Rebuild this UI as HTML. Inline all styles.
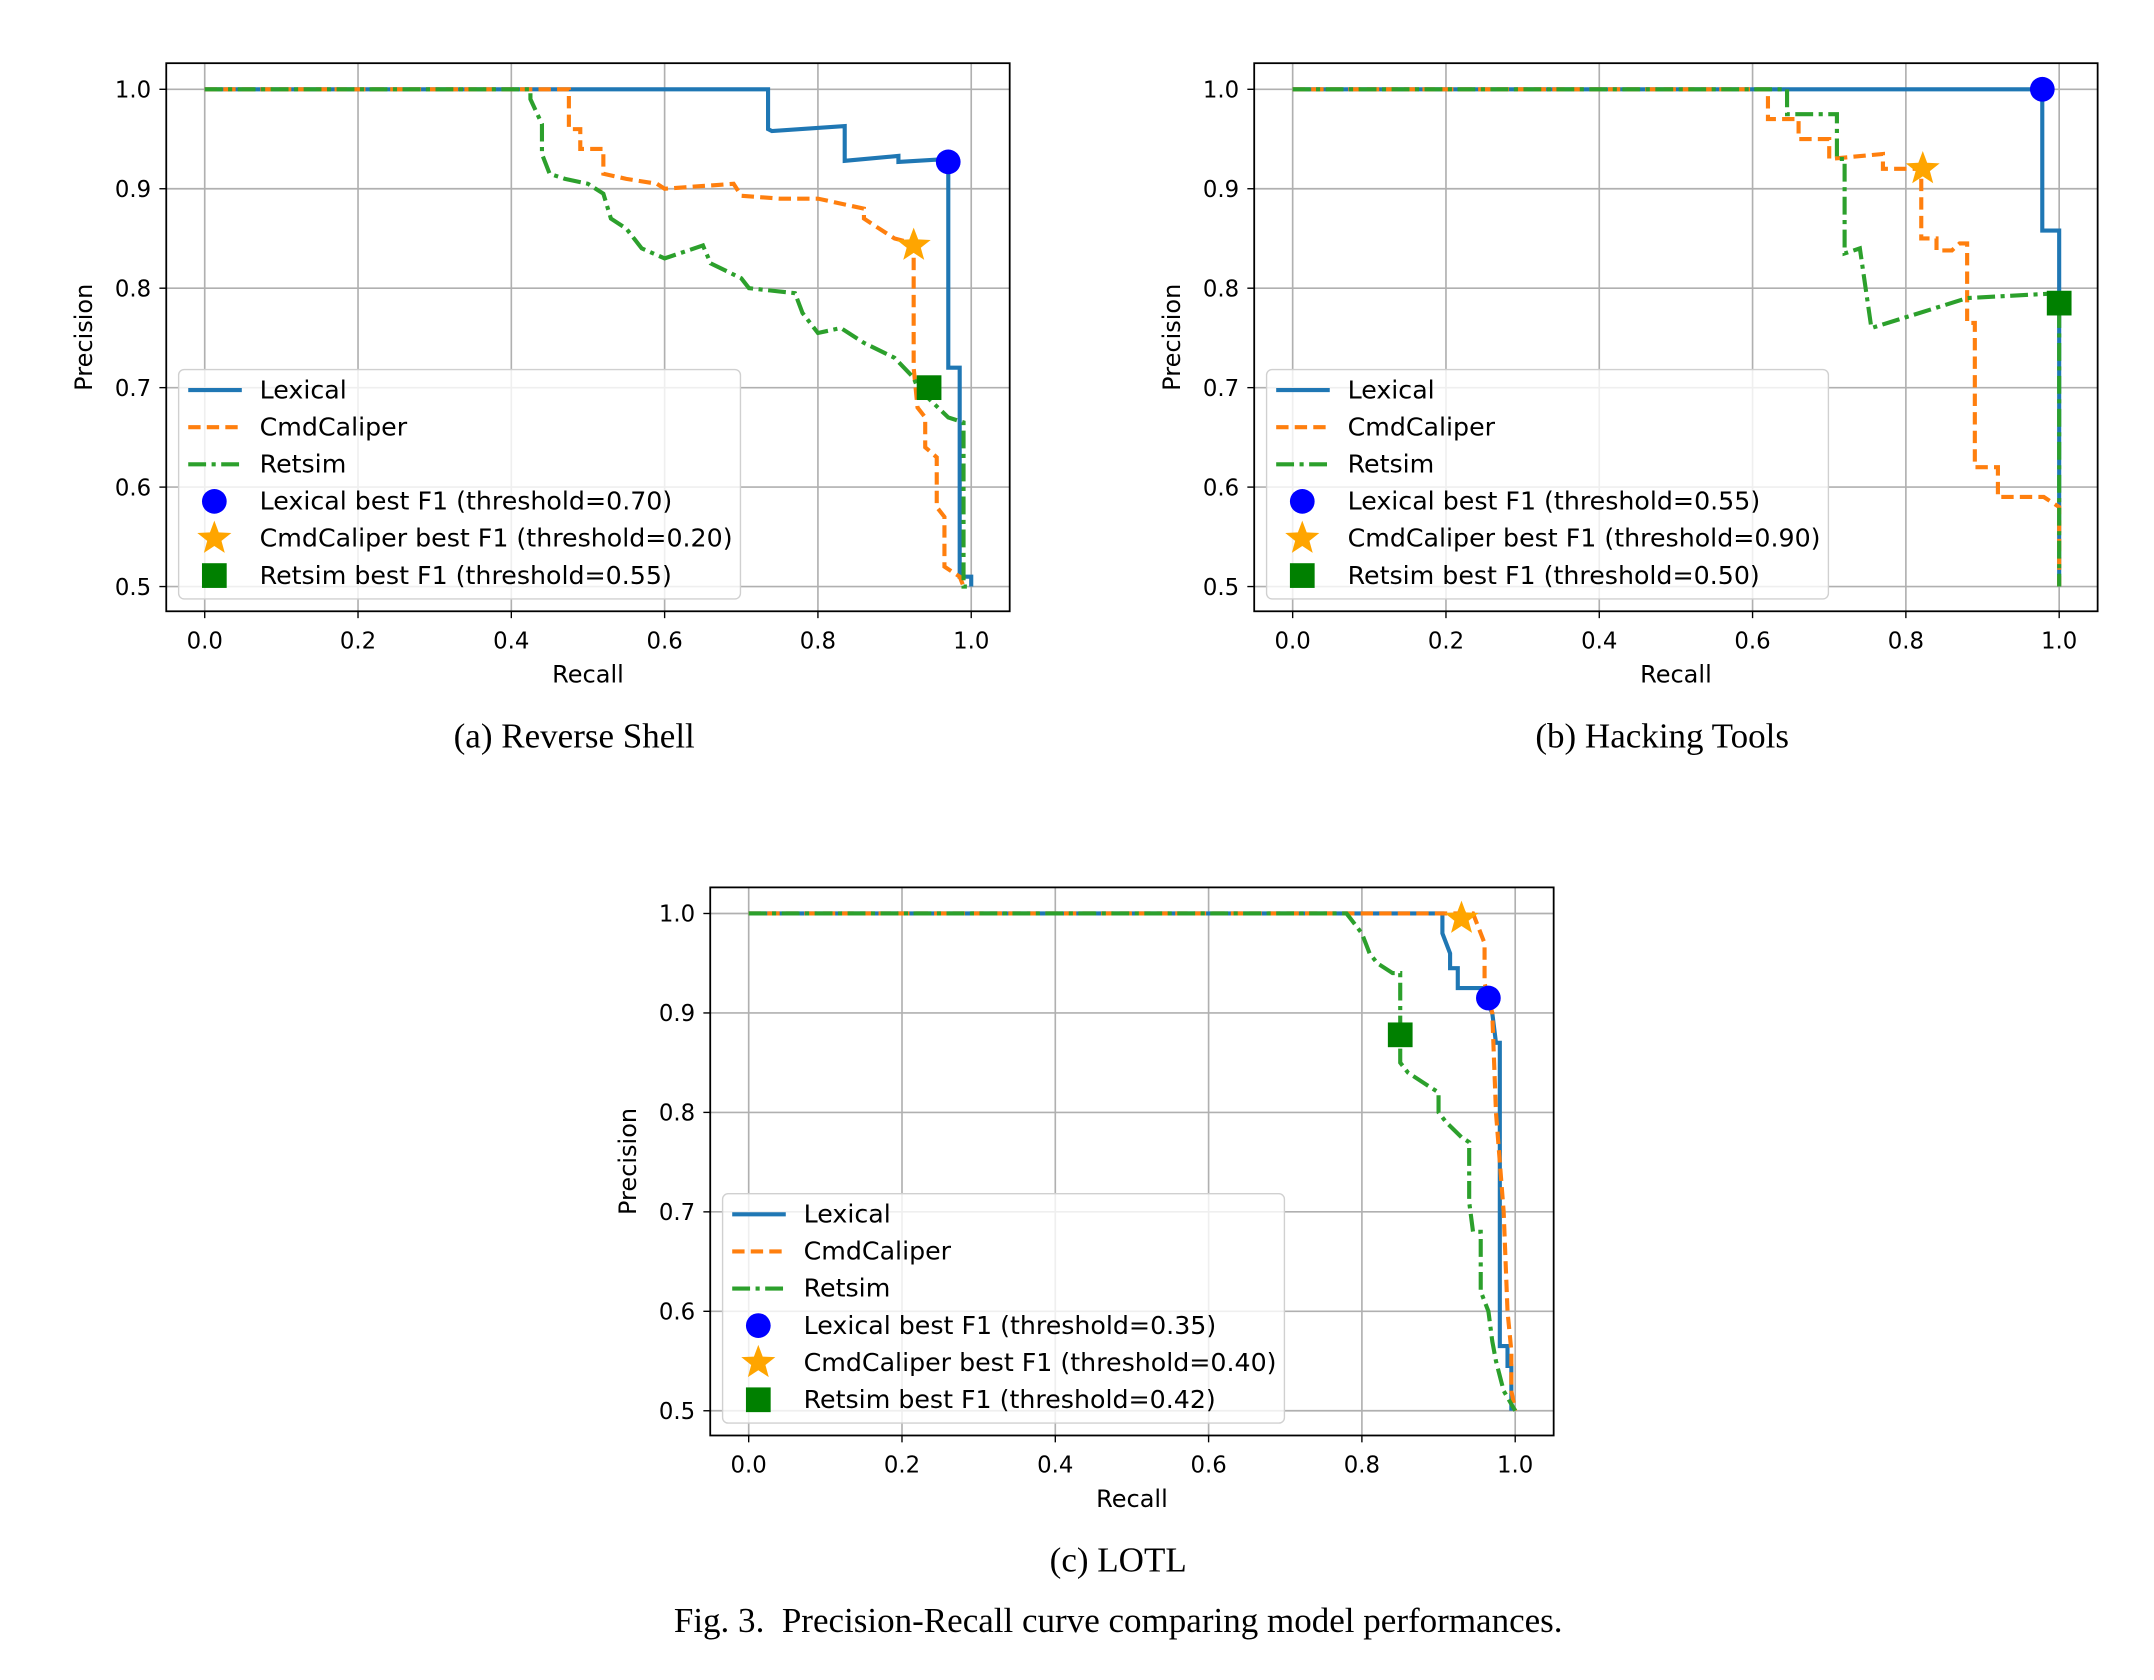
<!DOCTYPE html>
<html><head><meta charset="utf-8">
<style>
html,body{margin:0;padding:0;background:#fff;}
svg{display:block;}
.tick{font-family:"DejaVu Sans","Liberation Sans",sans-serif;font-size:16.6px;fill:#000;}
.lab{font-family:"DejaVu Sans","Liberation Sans",sans-serif;font-size:17.5px;fill:#000;}
.leg{font-family:"DejaVu Sans","Liberation Sans",sans-serif;font-size:18.4px;fill:#000;}
.cap{font-family:"Liberation Serif",serif;font-size:25.5px;fill:#000;}
</style></head>
<body>
<svg id="fig" width="2154" height="1680" viewBox="0 0 1568 1223" xmlns="http://www.w3.org/2000/svg">
<text class="cap" x="418" y="544" text-anchor="middle">(a) Reverse Shell</text>
<text class="cap" x="1210" y="544" text-anchor="middle">(b) Hacking Tools</text>
<text class="cap" x="814" y="1144" text-anchor="middle">(c) LOTL</text>
<text class="cap" x="814" y="1188" text-anchor="middle">Fig. 3.&#160; Precision-Recall curve comparing model performances.</text>
</svg>
<script>
const xTicks=[0,0.2,0.4,0.6,0.8,1.0];
const yTicks=[0.5,0.6,0.7,0.8,0.9,1.0];
const seriesNames=["Lexical","CmdCaliper","Retsim"];
// panel a
const aLexR=[0,0.735,0.735,0.74,0.835,0.835,0.905,0.905,0.97,0.97,0.985,0.985,1.0,1.0];
const aLexP=[1,1,0.96,0.958,0.963,0.928,0.933,0.927,0.93,0.72,0.72,0.51,0.51,0.5];
const aCmdR=[0,0.475,0.475,0.49,0.49,0.52,0.52,0.55,0.59,0.6,0.69,0.7,0.75,0.8,0.86,0.86,0.88,0.9,0.925,0.925,0.93,0.94,0.94,0.955,0.955,0.965,0.965,0.985,0.99];
const aCmdP=[1,1,0.96,0.96,0.94,0.94,0.915,0.91,0.905,0.9,0.905,0.893,0.89,0.89,0.88,0.87,0.86,0.85,0.845,0.72,0.68,0.67,0.64,0.63,0.58,0.57,0.52,0.51,0.5];
const aRetR=[0,0.425,0.425,0.44,0.44,0.45,0.47,0.5,0.52,0.53,0.55,0.57,0.6,0.65,0.66,0.7,0.71,0.77,0.78,0.8,0.83,0.86,0.9,0.925,0.93,0.95,0.97,0.99,0.99,1.0];
const aRetP=[1,1,0.99,0.965,0.935,0.915,0.91,0.905,0.895,0.87,0.86,0.84,0.83,0.843,0.825,0.81,0.8,0.795,0.775,0.755,0.76,0.745,0.73,0.71,0.7,0.685,0.67,0.665,0.5,0.5];
const aBest=[[0.97,0.927],[0.925,0.843],[0.945,0.7]];
const aThr=["0.70","0.20","0.55"];
// panel b
const bLexR=[0,0.978,0.978,1.0,1.0];
const bLexP=[1,1,0.858,0.858,0.5];
const bCmdR=[0,0.62,0.62,0.66,0.66,0.7,0.7,0.77,0.77,0.82,0.82,0.84,0.84,0.86,0.87,0.88,0.88,0.89,0.89,0.92,0.92,0.98,1.0,1.0];
const bCmdP=[1,1,0.97,0.97,0.95,0.95,0.93,0.935,0.92,0.92,0.85,0.85,0.838,0.838,0.845,0.845,0.765,0.765,0.62,0.62,0.59,0.59,0.58,0.5];
const bRetR=[0,0.645,0.645,0.71,0.71,0.72,0.72,0.74,0.755,0.88,1.0,1.0];
const bRetP=[1,1,0.975,0.975,0.93,0.93,0.835,0.84,0.76,0.79,0.795,0.5];
const bBest=[[0.978,1.0],[0.822,0.92],[1.0,0.785]];
const bThr=["0.55","0.90","0.50"];
// panel c
const cLexR=[0,0.905,0.905,0.915,0.915,0.925,0.925,0.96,0.96,0.97,0.975,0.98,0.98,0.99,0.99,0.995,0.995];
const cLexP=[1,1,0.98,0.96,0.945,0.945,0.925,0.925,0.915,0.9,0.87,0.87,0.565,0.565,0.545,0.545,0.5];
const cCmdR=[0,0.945,0.95,0.96,0.96,0.97,0.975,0.985,0.99,0.995,0.995,1.0];
const cCmdP=[1,1,0.99,0.97,0.93,0.9,0.8,0.7,0.6,0.56,0.52,0.5];
const cRetR=[0,0.78,0.79,0.8,0.81,0.82,0.84,0.85,0.85,0.86,0.88,0.9,0.9,0.91,0.93,0.94,0.94,0.945,0.955,0.955,0.965,0.97,0.975,0.985,1.0];
const cRetP=[1,1,0.99,0.98,0.96,0.95,0.94,0.94,0.85,0.84,0.83,0.82,0.8,0.79,0.775,0.77,0.71,0.68,0.68,0.62,0.6,0.57,0.55,0.52,0.5];
const cBest=[[0.965,0.915],[0.93,0.995],[0.85,0.878]];
const cThr=["0.35","0.40","0.42"];

const NS="http://www.w3.org/2000/svg";
const svg=document.getElementById('fig');
function mk(tag,attrs,parent){const e=document.createElementNS(NS,tag);for(const k in attrs)e.setAttribute(k,attrs[k]);(parent||svg).appendChild(e);return e;}
const colors=["#1f77b4","#ff7f0e","#2ca02c"];
const dashes=["none","9,4.5","13,4,3,4"];

function panel(id,L,T,series,best,thr){
  const R=L+614,B=T+399;
  const x0=L+28,x1=L+586,yTop=T+19,yBot=T+381;
  const sx=v=>x0+(x1-x0)*v;
  const sy=v=>yBot-(yBot-yTop)*(v-0.5)/0.5;
  const g=mk('g',{});
  
  
  xTicks.forEach(t=>{
    const l=mk('line',{x1:sx(t),x2:sx(t),y1:T,y2:B,stroke:'#b0b0b0','stroke-width':1.2},g);
    
    
    mk('line',{x1:sx(t),x2:sx(t),y1:B,y2:B+5,stroke:'#000','stroke-width':1},g);
    const tx=mk('text',{x:sx(t),y:B+27,'text-anchor':'middle',class:'tick'},g);
    tx.textContent=t.toFixed(1);
    
    
  });
  yTicks.forEach(t=>{
    const l=mk('line',{x1:L,x2:R,y1:sy(t),y2:sy(t),stroke:'#b0b0b0','stroke-width':1.2},g);
    
    
    mk('line',{x1:L-5,x2:L,y1:sy(t),y2:sy(t),stroke:'#000','stroke-width':1},g);
    const tx=mk('text',{x:L-11,y:sy(t)+6,'text-anchor':'end',class:'tick'},g);
    tx.textContent=t.toFixed(1);
    
    
  });
  series.forEach((s,i)=>{
    const d=s[0].map((r,j)=>(j?'L':'M')+sx(r).toFixed(1)+','+sy(s[1][j]).toFixed(1)).join(' ');
    const p=mk('path',{d:d,fill:'none',stroke:colors[i],'stroke-width':3,'stroke-dasharray':dashes[i]},g);
    
    
  });
  const m0=mk('circle',{cx:sx(best[0][0]),cy:sy(best[0][1]),r:9,fill:'#0000ff'},g);
  
  
  const star=(cx,cy,r)=>{let pts=[];for(let k=0;k<10;k++){const a=-Math.PI/2+k*Math.PI/5;const rr=k%2?r*0.42:r;pts.push((cx+rr*Math.cos(a)).toFixed(1)+','+(cy+rr*Math.sin(a)).toFixed(1));}return pts.join(' ');};
  const m1=mk('polygon',{points:star(sx(best[1][0]),sy(best[1][1]),13),fill:'#ffa500'},g);
  
  
  const m2=mk('rect',{x:sx(best[2][0])-9,y:sy(best[2][1])-9,width:18,height:18,fill:'#008000'},g);
  
  
  mk('rect',{x:L,y:T,width:614,height:399,fill:'none',stroke:'#000','stroke-width':1.3},g);
  const xl=mk('text',{x:(L+R)/2,y:B+52,'text-anchor':'middle',class:'lab'},g);xl.textContent='Recall';
  
  
  const yl=mk('text',{x:0,y:0,'text-anchor':'middle',class:'lab',transform:`translate(${L-54},${(T+B)/2}) rotate(-90)`},g);yl.textContent='Precision';
  
  
  const lg=mk('g',{},g);
  
  
  const lx=L+9,ly=T+223;
  mk('rect',{x:lx,y:ly,width:409,height:167,rx:4,fill:'#fff','fill-opacity':0.8,stroke:'#d0d0d0','stroke-width':1},lg);
  const labels=[seriesNames[0],seriesNames[1],seriesNames[2],
    `Lexical best F1 (threshold=${thr[0]})`,`CmdCaliper best F1 (threshold=${thr[1]})`,`Retsim best F1 (threshold=${thr[2]})`];
  labels.forEach((t,k)=>{
    const yy=ly+15+k*27;
    if(k<3){mk('line',{x1:lx+7,x2:lx+46,y1:yy,y2:yy,stroke:colors[k],'stroke-width':3,'stroke-dasharray':dashes[k]},lg);}
    else if(k===3){mk('circle',{cx:lx+26,cy:yy,r:9,fill:'#0000ff'},lg);}
    else if(k===4){mk('polygon',{points:star(lx+26,yy,13),fill:'#ffa500'},lg);}
    else {mk('rect',{x:lx+17,y:yy-9,width:18,height:18,fill:'#008000'},lg);}
    const tx=mk('text',{x:lx+59,y:yy+6,class:'leg'},lg);tx.textContent=t;
    
    
  });
}
panel('a',121,46,[[aLexR,aLexP],[aCmdR,aCmdP],[aRetR,aRetP]],aBest,aThr);
panel('b',913,46,[[bLexR,bLexP],[bCmdR,bCmdP],[bRetR,bRetP]],bBest,bThr);
panel('c',517,646,[[cLexR,cLexP],[cCmdR,cCmdP],[cRetR,cRetP]],cBest,cThr);
</script>
</body></html>
